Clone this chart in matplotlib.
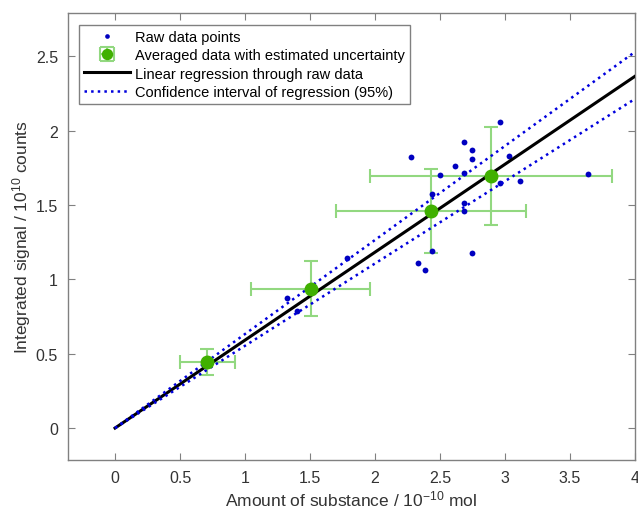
import numpy as np
import matplotlib.pyplot as plt

plt.rcParams['font.family'] = 'Liberation Sans'
plt.rcParams['mathtext.fontset'] = 'custom'
plt.rcParams['mathtext.rm'] = 'Liberation Sans'
plt.rcParams['mathtext.it'] = 'Liberation Sans:italic'

# --- raw data ---
raw_x = [2.96, 2.685, 2.749, 2.749, 2.274, 3.033, 2.62, 2.685, 2.498, 3.641, 2.96,
         3.113, 2.44, 2.685, 2.685, 2.44, 2.749, 2.331, 2.382, 1.787, 1.321, 1.402]
raw_y = [2.058, 1.921, 1.867, 1.809, 1.825, 1.829, 1.762, 1.713, 1.703, 1.710, 1.648,
         1.659, 1.571, 1.511, 1.457, 1.192, 1.177, 1.110, 1.063, 1.143, 0.874, 0.787]

# averaged data with uncertainty
avg_x = [0.71, 1.505, 2.43, 2.892]
avg_y = [0.446, 0.935, 1.459, 1.697]
avg_xerr = [0.21, 0.455, 0.73, 0.93]
avg_yerr = [0.088, 0.185, 0.285, 0.33]

# regression through origin and its 95% band (slopes)
slope = 0.591
slope_lo = 0.553
slope_hi = 0.632
x_fit = np.array([0, 4])

fig = plt.figure(figsize=(6.38, 5.10), dpi=100)
ax = fig.add_axes([0.106, 0.096, 0.889, 0.8765])

h_raw, = ax.plot(raw_x, raw_y, 'o', color='#0000c0', ms=4.2, mec='none',
                 label='Raw data points', zorder=3)
h_avg = ax.errorbar(avg_x, avg_y, xerr=avg_xerr, yerr=avg_yerr, fmt='o', color='#40b000',
                    ms=9, ecolor='#92d880', elinewidth=1.5, capsize=5, capthick=1.5,
                    label='Averaged data with estimated uncertainty', zorder=6)
for c in h_avg[1]:
    c.set_zorder(2)
for c in h_avg[2]:
    c.set_zorder(2)
h_fit, = ax.plot(x_fit, slope * x_fit, color='black', lw=2.2,
                 label='Linear regression through raw data', zorder=5)
h_ci, = ax.plot(x_fit, slope_hi * x_fit, ':', color='#0000dd', lw=1.8,
                label='Confidence interval of regression (95%)', zorder=5)
ax.plot(x_fit, slope_lo * x_fit, ':', color='#0000dd', lw=1.8, zorder=5)

ax.set_xlim(-0.365, 4)
ax.set_ylim(-0.215, 2.79)
ax.set_xticks([0, 0.5, 1, 1.5, 2, 2.5, 3, 3.5, 4])
ax.set_xticklabels(['0', '0.5', '1', '1.5', '2', '2.5', '3', '3.5', '4'])
ax.set_yticks([0, 0.5, 1, 1.5, 2, 2.5])
ax.set_yticklabels(['0', '0.5', '1', '1.5', '2', '2.5'])
ax.tick_params(direction='in', top=True, right=True, length=5, width=0.8,
               color='#808080', labelcolor='#333333', labelsize=11.5, pad=7)
for sp in ax.spines.values():
    sp.set_color('#808080')
    sp.set_linewidth(1.0)

ax.set_xlabel(r'Amount of substance / 10$^{-10}$ mol', fontsize=12.5, color='#333333',
              labelpad=3)
ax.set_ylabel(r'Integrated signal / 10$^{10}$ counts', fontsize=12.5, color='#333333',
              labelpad=2)

leg = ax.legend([h_raw, h_avg, h_fit, h_ci],
                [h.get_label() for h in [h_raw, h_avg, h_fit, h_ci]],
                loc='upper left', fontsize=10.5, fancybox=False, framealpha=1,
                edgecolor='#808080', borderpad=0.35, labelspacing=0.3,
                handlelength=3.1, handletextpad=0.35, borderaxespad=0.8,
                markerscale=0.8)
leg.get_frame().set_linewidth(1.0)

fig.savefig('out.png', dpi=100)
